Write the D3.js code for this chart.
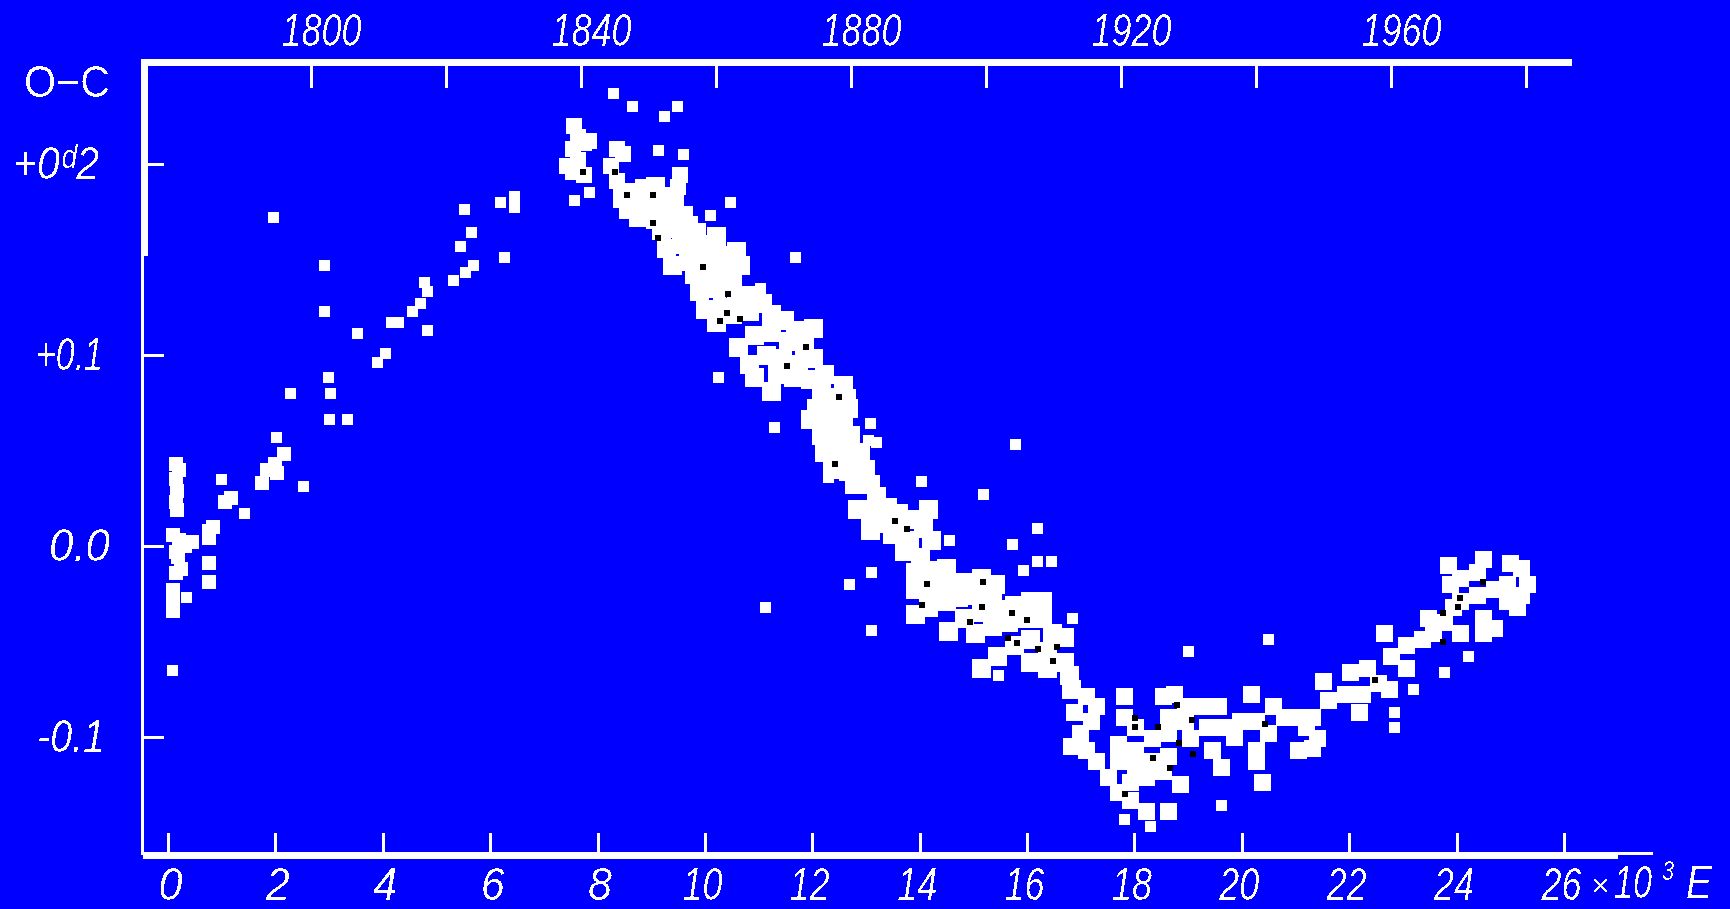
<!DOCTYPE html>
<html><head><meta charset="utf-8">
<script src="https://cdn.jsdelivr.net/npm/d3@7"></script>
<style>html,body{margin:0;background:#0000ff;overflow:hidden}svg{display:block}
text{font-family:"Liberation Sans",sans-serif;font-style:italic;fill:#fff}</style>
</head><body><svg id="c" width="1730" height="909"></svg>
<script>
const epochTicks=[0,2,4,6,8,10,12,14,16,18,20,22,24,26];
const yearTicks=[1800,1820,1840,1860,1880,1900,1920,1940,1960,1980];
const yearLabels=[1800,1840,1880,1920,1960];
const ocTicks=[0.2,0.1,0,-0.1];
const ocLabels=["+0ᵈ2","+0.1","0.0","-0.1"];
const earlyPoints=[[.14,.043],[.21,.040],[.14,.035],[.16,.029],[.14,.023],[.16,.019],[.10,.006],[.21,.003],[.14,-.003],[.31,0],[.45,.002],[.18,-.006],[.25,-.012],[.14,-.014],[.10,-.023],[.10,-.034],[.10,-.029],[.76,.008],[.84,.010],[.76,.004],[.76,-.009],[.76,-.019],[1.07,.023],[1.17,.025],[1.75,.033],[1.85,.040],[1.99,.043],[2.16,.048],[2.03,.038]];
const risingPoints=[[.35,-.027],[.99,.035],[1.42,.017],[2.03,.057],[2.53,.031],[2.28,.080],[1.97,.172],[2.92,.147],[2.92,.123],[2.98,.088],[3.02,.080],[3.00,.066],[3.35,.066],[3.53,.111],[4.05,.101],[3.90,.096],[4.17,.117],[4.30,.117],[4.56,.123],[4.71,.127],[4.83,.133],[4.77,.138],[4.83,.113],[5.45,.157],[5.65,.164],[5.53,.176],[5.69,.147],[5.55,.143],[5.32,.139],[6.27,.151],[6.19,.180],[6.45,.183],[6.45,.177]];
const peakPoints=[[7.56,.220],[7.64,.214],[7.54,.208],[7.75,.211],[7.44,.199],[7.64,.202],[7.85,.212],[7.54,.196],[7.75,.194],[8.36,.208],[8.47,.205],[8.26,.199],[8.36,.191],[9.53,.194],[9.49,.188]];
const fallingPoints=[[8.47,.182],[8.67,.185],[8.88,.187],[9.08,.188],[9.29,.183],[8.57,.176],[8.82,.177],[9.02,.179],[9.29,.176],[9.43,.179],[8.77,.172],[9.08,.171],[9.39,.172],[9.60,.173],[9.19,.165],[9.43,.166],[9.70,.168],[9.84,.164],[9.29,.156],[9.56,.158],[9.80,.156],[10.05,.158],[10.21,.162],[9.39,.147],[9.70,.149],[10.01,.150],[10.32,.152],[10.58,.154],[9.80,.142],[10.11,.143],[10.42,.145],[10.67,.147],[9.90,.133],[10.21,.135],[10.52,.137],[10.01,.124],[10.32,.125],[10.58,.130],[10.83,.131],[10.21,.117],[10.52,.121],[10.83,.123],[11.08,.127],[11.24,.121],[11.49,.118],[11.69,.113],[12.02,.114],[10.62,.104],[10.93,.110],[11.24,.112],[11.55,.107],[11.86,.104],[10.83,.095],[11.14,.100],[11.45,.098],[11.75,.095],[12.02,.098],[10.93,.088],[11.35,.090],[11.65,.088],[11.96,.087],[12.23,.090],[12.58,.084],[11.24,.081],[12.17,.081],[12.48,.078],[12.64,.077],[12.07,.072],[12.38,.071],[12.68,.072],[11.96,.066],[12.27,.064],[12.58,.064],[12.17,.058],[12.48,.056],[12.72,.058],[12.23,.049],[12.58,.048],[12.89,.049],[12.38,.040],[12.68,.039],[12.99,.040],[12.78,.032],[13.09,.032],[13.19,.026],[12.85,.019],[13.09,.017],[13.40,.020],[13.60,.017],[13.30,.012],[13.60,.010],[13.92,.014],[14.16,.019],[13.09,.008],[13.50,.006],[13.81,.003],[14.08,.009],[13.71,-.003],[14.02,-.006],[14.22,.003],[13.92,-.014],[14.22,-.013],[14.49,-.012],[13.92,-.023],[14.22,-.023],[14.53,-.020],[14.84,-.019],[15.15,-.017],[15.41,-.020],[13.92,-.036],[14.16,-.032],[14.49,-.029],[14.73,-.027],[15.04,-.026],[15.35,-.025],[14.53,-.045],[14.84,-.038],[15.15,-.035],[15.45,-.033],[15.76,-.031],[16.07,-.029],[16.28,-.029],[15.04,-.046],[15.35,-.042],[15.66,-.040],[15.97,-.038],[16.28,-.038],[16.48,-.046],[16.69,-.048],[15.15,-.064],[15.45,-.058],[15.76,-.052],[16.07,-.049],[16.38,-.055],[16.07,-.061],[16.38,-.064],[16.69,-.061],[16.79,-.068],[16.83,-.075]];
const outlierPoints=[[.08,-.065],[8.30,.237],[8.65,.230],[9.25,.225],[9.49,.230],[9.14,.207],[9.60,.205],[10.48,.180],[10.11,.173],[7.85,.185],[7.58,.181],[10.25,.088],[11.30,.062],[11.69,.151],[11.04,.135],[13.09,.064],[13.05,.055],[13.19,.054],[12.31,.036],[14.04,.034],[15.19,.027],[15.78,.053],[16.19,.009],[15.72,.001],[14.55,.003],[14.20,.005],[16.19,-.008],[16.46,-.008],[15.93,-.013],[12.70,-.020],[13.11,-.014],[11.12,-.032],[13.11,-.044],[16.85,-.038],[15.47,-.068],[20.49,-.049],[19.01,-.055],[19.62,-.136],[18.29,-.147],[17.82,-.143],[22.85,-.095],[23.78,-.066],[23.20,-.075],[24.23,-.058],[22.85,-.087]];
const troughPoints=[[17.10,-.079],[17.30,-.084],[16.89,-.087],[17.20,-.092],[16.99,-.098],[16.83,-.105],[17.10,-.107],[17.30,-.113],[17.51,-.121],[17.82,-.079],[17.82,-.090],[18.02,-.095],[17.71,-.104],[18.02,-.107],[18.33,-.101],[18.64,-.098],[17.71,-.113],[18.02,-.116],[18.33,-.113],[18.64,-.110],[17.92,-.124],[18.23,-.121],[18.54,-.118],[18.85,-.125],[17.71,-.129],[17.92,-.133],[18.64,-.139],[18.23,-.139],[18.54,-.079],[18.74,-.078],[18.95,-.084],[18.64,-.090],[18.95,-.092],[19.25,-.084],[19.56,-.084],[19.05,-.101],[19.36,-.095],[19.67,-.095],[19.97,-.092],[20.28,-.092],[20.59,-.084],[20.18,-.078],[19.46,-.107],[19.87,-.100],[20.28,-.107],[20.49,-.098],[20.80,-.090],[19.62,-.116],[20.28,-.113],[20.39,-.124],[21.06,-.107],[21.31,-.090],[21.00,-.090],[21.21,-.095],[21.41,-.101],[21.31,-.106]];
const recentPoints=[[21.52,-.071],[21.62,-.081],[21.93,-.078],[22.24,-.078],[22.03,-.066],[22.34,-.064],[22.55,-.072],[22.19,-.087],[22.75,-.075],[22.65,-.046],[22.79,-.058],[23.06,-.064],[23.06,-.052],[23.37,-.049],[23.57,-.046],[23.78,-.040],[23.47,-.038],[23.94,-.032],[24.08,-.046],[24.50,-.046],[24.70,-.043],[23.88,-.020],[24.08,-.017],[24.39,-.014],[23.84,-.010],[24.50,-.007],[25.01,-.009],[25.21,-.012],[24.08,-.029],[24.39,-.026],[24.70,-.023],[24.94,-.029],[25.21,-.026],[25.32,-.020],[24.94,-.020],[25.14,-.032],[24.50,-.038]];
const overlapSpecks=[[9.03,.184],[8.55,.184],[9.03,.169],[9.13,.161],[9.96,.146],[10.43,.132],[10.41,.122],[10.28,.118],[10.65,.119],[11.53,.094],[11.88,.104],[12.50,.078],[12.42,.043],[7.73,.196],[8.33,.196],[13.76,.009],[13.54,.013],[15.18,-.019],[14.14,-.020],[14.04,-.031],[15.16,-.032],[15.72,-.035],[14.94,-.040],[16.00,-.039],[15.64,-.048],[15.81,-.051],[16.56,-.053],[16.48,-.060],[16.20,-.054],[18.79,-.083],[18.01,-.090],[18.01,-.095],[18.44,-.095],[19.07,-.091],[19.09,-.109],[18.35,-.111],[18.66,-.116],[17.82,-.130],[18.83,-.103],[24.06,-.027],[24.03,-.032],[24.49,-.019],[23.75,-.035],[23.75,-.050],[22.48,-.070],[20.43,-.093]];

const svg=d3.select("#c");
const defs=svg.append("defs");
defs.append("filter").attr("id","jag").attr("x","-5%").attr("y","-5%").attr("width","110%").attr("height","110%")
  .append("feComponentTransfer").append("feFuncA").attr("type","discrete").attr("tableValues","0 0 1");
const x=d3.scaleLinear().domain([0,26]).range([168,1564]);
const yr=d3.scaleLinear().domain([1800,1980]).range([311,1526]);
const y=d3.scaleLinear().domain([0.2,-0.1]).range([164,737]);

const groups=[[earlyPoints,14,"#fff"],[risingPoints,11,"#fff"],[peakPoints,16,"#fff"],[fallingPoints,19,"#fff"],[outlierPoints,11,"#fff"],[troughPoints,17,"#fff"],[recentPoints,17,"#fff"],[overlapSpecks,6,"#000"]];
groups.forEach(([pts,s,c])=>{
  svg.append("g").selectAll("rect").data(pts).join("rect")
    .attr("x",d=>Math.round(x(d[0])-s/2)).attr("y",d=>Math.round(y(d[1])-s/2))
    .attr("width",s).attr("height",s).attr("fill",c).attr("shape-rendering","crispEdges");
});

function style(g){g.select(".domain").remove();g.selectAll("line").attr("stroke","#fff").attr("stroke-width",3).attr("shape-rendering","crispEdges");}
const topY=62,botY=855,leftX=142,fs=46;
const topAxis=svg.append("g").attr("transform",`translate(0,${topY})`)
  .call(d3.axisTop(yr).tickValues(yearTicks).tickSizeInner(-26).tickSizeOuter(0).tickPadding(16)
    .tickFormat(d=>yearLabels.includes(d)?d:""))
  .call(style);
topAxis.selectAll("text").attr("dx",10).attr("textLength",d=>yearLabels.includes(d)?80:null).attr("lengthAdjust","spacingAndGlyphs");
const botAxis=svg.append("g").attr("transform",`translate(0,${botY})`)
  .call(d3.axisBottom(x).tickValues(epochTicks).tickSizeInner(-22).tickSizeOuter(0).tickPadding(12).tickFormat(d3.format("d")))
  .call(style);
botAxis.selectAll("text").attr("textLength",d=>d>=10?40:24).attr("lengthAdjust","spacingAndGlyphs").attr("dx",d=>d>=10?-3:2);
const leftAxis=svg.append("g").attr("transform",`translate(${leftX},0)`)
  .call(d3.axisLeft(y).tickValues(ocTicks).tickSizeInner(-22).tickSizeOuter(0).tickPadding(32)
    .tickFormat((d,i)=>ocLabels[i]))
  .call(style);
const lw={0.2:86,0.1:67,0:61,"-0.1":68}, ldx={0.2:-11,0.1:-7,0:0,"-0.1":-5};
leftAxis.selectAll("text").attr("textLength",d=>lw[d]).attr("lengthAdjust","spacingAndGlyphs").attr("dx",d=>ldx[d]);
[topAxis,botAxis,leftAxis].forEach(g=>g.selectAll("text").attr("font-family",null).attr("font-size",null)
  .style("font-size",fs+"px").attr("filter","url(#jag)"));
const frame=[[143,59,1429,7],[141,59,7,197],[141,59,3,796],[143,852,1475,7],[1617,852,36,3]];
svg.append("g").selectAll("rect").data(frame).join("rect")
  .attr("x",d=>d[0]).attr("y",d=>d[1]).attr("width",d=>d[2]).attr("height",d=>d[3])
  .attr("fill","#fff").attr("shape-rendering","crispEdges");
const extras=[["O−C",67,97,44,86,"normal"],["×",1600,896,32,18,"italic"],["10",1633,898,fs,38,"italic"],["3",1668,880,28,12,"italic"],["E",1699,898,fs,26,"italic"]];
svg.append("g").selectAll("text").data(extras).join("text")
  .attr("x",d=>d[1]).attr("y",d=>d[2]).style("font-size",d=>d[3]+"px").style("font-style",d=>d[5]).attr("text-anchor","middle")
  .attr("textLength",d=>d[4]).attr("lengthAdjust","spacingAndGlyphs")
  .attr("filter","url(#jag)").text(d=>d[0]);
</script></body></html>
